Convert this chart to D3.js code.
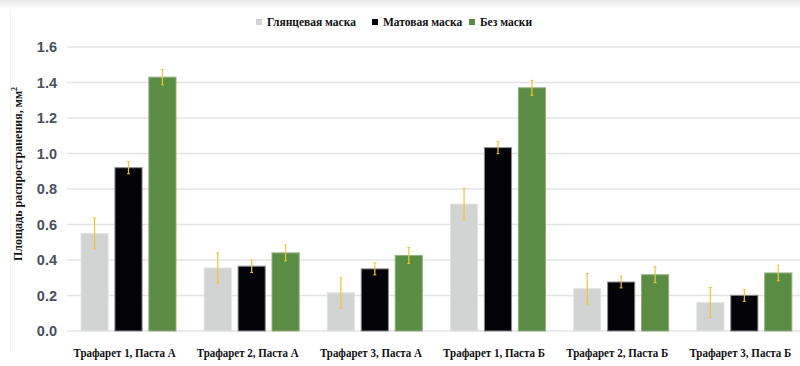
<!DOCTYPE html>
<html>
<head>
<meta charset="utf-8">
<script src="https://cdn.jsdelivr.net/npm/d3@7"></script>
<style>
  body { margin: 0; background: #fff; }
  svg { display: block; }
</style>
</head>
<body>
<div id="chart"></div>
<script>
// Data
const groups = ["Трафарет 1, Паста А", "Трафарет 2, Паста А", "Трафарет 3, Паста А",
                "Трафарет 1, Паста Б", "Трафарет 2, Паста Б", "Трафарет 3, Паста Б"];
const seriesNames = ["Глянцевая маска", "Матовая маска", "Без маски"];
const glossy = [0.55, 0.355, 0.215, 0.715, 0.238, 0.16];
const matte  = [0.92, 0.365, 0.35, 1.033, 0.276, 0.201];
const none   = [1.43, 0.44, 0.425, 1.37, 0.317, 0.327];
const glossyErr = [0.087, 0.085, 0.085, 0.088, 0.086, 0.085];
const matteErr  = [0.034, 0.035, 0.034, 0.034, 0.033, 0.034];
const noneErr   = [0.043, 0.045, 0.045, 0.042, 0.045, 0.044];
const yTicks = [0, 0.2, 0.4, 0.6, 0.8, 1.0, 1.2, 1.4, 1.6];

const colors = ["#d2d3d3", "#040408", "#5a8c44"];
const strokes = ["#e2e3e3", "#8a8a8a", "#8fb07f"];

const W = 800, H = 366;
const svg = d3.select("#chart").append("svg")
    .attr("width", W).attr("height", H);

// faint top shading like the scan
const grad = svg.append("defs").append("linearGradient")
    .attr("id", "top").attr("x1", 0).attr("y1", 0).attr("x2", 0).attr("y2", 1);
grad.append("stop").attr("offset", 0).attr("stop-color", "#e8e8ea");
grad.append("stop").attr("offset", 1).attr("stop-color", "#ffffff");
svg.append("rect").attr("x", 0).attr("y", 0).attr("width", W).attr("height", 9)
    .attr("fill", "url(#top)");
svg.append("line").attr("x1", 10.5).attr("x2", 10.5).attr("y1", 10).attr("y2", 352)
    .attr("stroke", "#f1f1f1");

const x0 = d3.scaleBand().domain(groups).range([67, 806]).paddingInner(0).paddingOuter(0);
const x1 = d3.scaleBand().domain(seriesNames).range([14, 109]).paddingInner(0.2);
const y = d3.scaleLinear().domain([0, 1.6]).range([331, 47]);

// gridlines
svg.append("g")
    .selectAll("line")
    .data(yTicks)
    .join("line")
    .attr("x1", 67).attr("x2", W)
    .attr("y1", d => y(d)).attr("y2", d => y(d))
    .attr("stroke", "#e4e4e6")
    .attr("stroke-width", 1.5);

// y axis labels
svg.append("g")
    .attr("transform", "translate(57,0)")
    .call(d3.axisLeft(y).tickValues(yTicks).tickFormat(d3.format(".1f")).tickSize(0))
    .call(g => g.select(".domain").remove())
    .selectAll("text")
    .attr("x", 0)
    .style("font-family", "'Liberation Sans', Arial, sans-serif")
    .style("font-weight", "bold")
    .style("font-size", "14.5px")
    .attr("fill", "#4a505c");

// y title
svg.append("text")
    .attr("transform", "translate(22,174) rotate(-90)")
    .attr("text-anchor", "middle")
    .style("font-family", "'Liberation Serif', 'Times New Roman', serif")
    .style("font-weight", "bold")
    .style("font-size", "12px")
    .attr("fill", "#111")
    .text("Площадь распространения, мм")
    .append("tspan").attr("dy", -5).style("font-size", "8px").text("2");

const table = groups.map((g, i) => ({
  group: g,
  items: [
    { name: seriesNames[0], v: glossy[i], e: glossyErr[i], k: 0 },
    { name: seriesNames[1], v: matte[i], e: matteErr[i], k: 1 },
    { name: seriesNames[2], v: none[i], e: noneErr[i], k: 2 }
  ]
}));

const gGroups = svg.append("g").selectAll("g")
    .data(table)
    .join("g")
    .attr("transform", d => `translate(${x0(d.group)},0)`);

gGroups.selectAll("rect")
    .data(d => d.items)
    .join("rect")
    .attr("x", d => x1(d.name))
    .attr("y", d => y(d.v))
    .attr("width", x1.bandwidth())
    .attr("height", d => y(0) - y(d.v))
    .attr("fill", d => colors[d.k])
    .attr("stroke", d => strokes[d.k])
    .attr("stroke-width", 1);

// error bars
const err = gGroups.selectAll("g.err")
    .data(d => d.items)
    .join("g")
    .attr("class", "err")
    .attr("transform", d => `translate(${x1(d.name) + x1.bandwidth() / 2},0)`);
err.append("line")
    .attr("y1", d => y(d.v + d.e)).attr("y2", d => y(d.v - d.e))
    .attr("stroke", "#efc53a").attr("stroke-width", 1.2);
err.append("line")
    .attr("x1", -1.5).attr("x2", 1.5)
    .attr("y1", d => y(d.v + d.e)).attr("y2", d => y(d.v + d.e))
    .attr("stroke", "#efc53a").attr("stroke-width", 1);
err.append("line")
    .attr("x1", -1.5).attr("x2", 1.5)
    .attr("y1", d => y(d.v - d.e)).attr("y2", d => y(d.v - d.e))
    .attr("stroke", "#efc53a").attr("stroke-width", 1);

// x labels (condensed bold serif like the original)
svg.append("g").selectAll("text")
    .data(groups)
    .join("text")
    .attr("x", d => x0(d) + x0.bandwidth() / 2 - 4)
    .attr("y", 357)
    .attr("text-anchor", "middle")
    .attr("textLength", 102)
    .attr("lengthAdjust", "spacingAndGlyphs")
    .style("font-family", "'Liberation Serif', 'Times New Roman', serif")
    .style("font-weight", "bold")
    .style("font-size", "12px")
    .attr("fill", "#111")
    .text(d => d);

// legend
const legendX = [256, 372, 469];
const legend = svg.append("g").selectAll("g")
    .data(seriesNames)
    .join("g")
    .attr("transform", (d, i) => `translate(${legendX[i]},19)`);
legend.append("rect")
    .attr("width", 6).attr("height", 6)
    .attr("fill", (d, i) => colors[i]);
legend.append("text")
    .attr("x", 11).attr("y", 6.5)
    .style("font-family", "'Liberation Serif', 'Times New Roman', serif")
    .style("font-weight", "bold")
    .style("font-size", "11.5px")
    .attr("fill", "#111")
    .text(d => d);
</script>
</body>
</html>
